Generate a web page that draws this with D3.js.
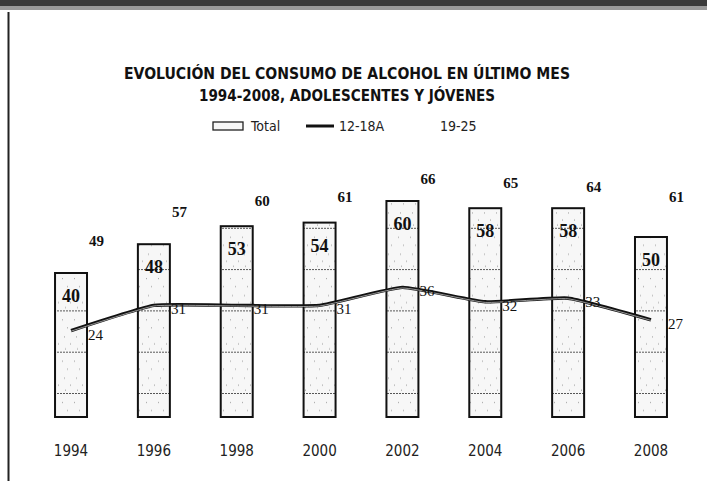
<!DOCTYPE html>
<html>
<head>
<meta charset="utf-8">
<script src="https://cdn.jsdelivr.net/npm/d3@7"></script>
<style>
  body { margin: 0; background: #fff; }
  svg { display: block; }
</style>
</head>
<body>
<div id="chart"></div>
<script>
const years = ['1994', '1996', '1998', '2000', '2002', '2004', '2006', '2008'];
const total = [40, 48, 53, 54, 60, 58, 58, 50];
const teens = [24, 31, 31, 31, 36, 32, 33, 27];
const young = [49, 57, 60, 61, 66, 65, 64, 61];
const titleLines = ['EVOLUCIÓN DEL CONSUMO DE ALCOHOL EN ÚLTIMO MES', '1994-2008, ADOLESCENTES Y JÓVENES'];
const legendLabels = ['Total', '12-18A', '19-25'];

const WIDTH = 707, HEIGHT = 481;
const narrow = '"Liberation Sans Narrow", "DejaVu Sans Condensed", "Liberation Sans", sans-serif';
const serif = '"Liberation Serif", "DejaVu Serif", serif';

const svg = d3.select('#chart').append('svg')
    .attr('width', WIDTH)
    .attr('height', HEIGHT);

// scanned page border
svg.append('rect').attr('x', 0).attr('y', 0).attr('width', WIDTH).attr('height', 9).attr('fill', '#3a3a3a');
svg.append('rect').attr('x', 0).attr('y', 6).attr('width', WIDTH).attr('height', 4).attr('fill', '#9a9a9a');
svg.append('line').attr('x1', 8.5).attr('x2', 8.5).attr('y1', 12).attr('y2', HEIGHT)
    .attr('stroke', '#222').attr('stroke-width', 2);

const x = d3.scaleBand().domain(years).range([29.6, 692.4]).paddingInner(0.614).paddingOuter(0.307);
const y = d3.scaleLinear().domain([0, 70]).range([417, 165]);
const cx = d => x(d) + x.bandwidth() / 2;

// bar fill: light speckle with dashed horizontal rules
const defs = svg.append('defs');
const pat = defs.append('pattern').attr('id', 'barfill')
    .attr('patternUnits', 'userSpaceOnUse')
    .attr('x', 0).attr('y', 393).attr('width', 12).attr('height', 41.3);
pat.append('rect').attr('width', 12).attr('height', 41.3).attr('fill', '#f7f7f7');
pat.append('line').attr('x1', 0).attr('x2', 12).attr('y1', 0.5).attr('y2', 0.5)
    .attr('stroke', '#555').attr('stroke-width', 1.2).attr('stroke-dasharray', '2,1');
[[2, 9], [7, 17], [4, 26], [10, 33], [5, 38]].forEach(p => {
    pat.append('rect').attr('x', p[0]).attr('y', p[1]).attr('width', 1).attr('height', 1).attr('fill', '#999');
});

// title
svg.append('g').selectAll('text')
    .data(titleLines)
    .enter().append('text')
    .attr('x', 347)
    .attr('y', (d, i) => 79 + i * 22)
    .attr('text-anchor', 'middle')
    .attr('font-family', narrow)
    .attr('font-weight', 'bold')
    .attr('font-size', 16)
    .attr('textLength', (d, i) => i === 0 ? 446 : 296)
    .attr('lengthAdjust', 'spacingAndGlyphs')
    .attr('fill', '#111')
    .text(d => d);

// legend
const legend = svg.append('g').attr('font-family', narrow).attr('font-size', 14).attr('fill', '#222');
legend.append('rect').attr('x', 213).attr('y', 122).attr('width', 30).attr('height', 8)
    .attr('fill', '#f7f7f7').attr('stroke', '#222').attr('stroke-width', 1.3);
legend.append('text').attr('x', 251).attr('y', 131).text(legendLabels[0]);
legend.append('line').attr('x1', 306).attr('x2', 334).attr('y1', 126).attr('y2', 126)
    .attr('stroke', '#111').attr('stroke-width', 3);
legend.append('text').attr('x', 339).attr('y', 131).text(legendLabels[1]);
legend.append('text').attr('x', 440).attr('y', 131).text(legendLabels[2]);

// bars (Total)
svg.append('g').selectAll('rect')
    .data(total)
    .enter().append('rect')
    .attr('x', (d, i) => x(years[i]))
    .attr('y', d => y(d))
    .attr('width', x.bandwidth())
    .attr('height', d => y(0) - y(d))
    .attr('fill', 'url(#barfill)')
    .attr('stroke', '#111')
    .attr('stroke-width', 2);

svg.append('g').selectAll('text')
    .data(total)
    .enter().append('text')
    .attr('x', (d, i) => cx(years[i]))
    .attr('y', d => y(d) + 29)
    .attr('text-anchor', 'middle')
    .attr('font-family', serif)
    .attr('font-weight', 'bold')
    .attr('font-size', 18)
    .attr('fill', '#111')
    .text(d => d);

// 12-18A line
const line = d3.line()
    .x((d, i) => cx(years[i]))
    .y(d => y(d))
    .curve(d3.curveCardinal.tension(0.6));

svg.append('path')
    .datum(teens)
    .attr('d', line)
    .attr('fill', 'none')
    .attr('stroke', '#111')
    .attr('stroke-width', 3.4);
svg.append('path')
    .datum(teens)
    .attr('d', line)
    .attr('fill', 'none')
    .attr('stroke', '#bbb')
    .attr('stroke-width', 0.8)
    .attr('transform', 'translate(0,0.6)');

svg.append('g').selectAll('text')
    .data(teens)
    .enter().append('text')
    .attr('x', (d, i) => cx(years[i]) + 17)
    .attr('y', d => y(d) + 9)
    .attr('font-family', serif)
    .attr('font-size', 15)
    .attr('fill', '#111')
    .text(d => d);

// 19-25 (line drawn in white, only labels show)
svg.append('g').selectAll('text')
    .data(young)
    .enter().append('text')
    .attr('x', (d, i) => cx(years[i]) + 18)
    .attr('y', d => y(d) + 5)
    .attr('font-family', serif)
    .attr('font-weight', 'bold')
    .attr('font-size', 15)
    .attr('fill', '#111')
    .text(d => d);

// category axis labels
svg.append('g').selectAll('text')
    .data(years)
    .enter().append('text')
    .attr('x', d => cx(d))
    .attr('y', 456)
    .attr('text-anchor', 'middle')
    .attr('font-family', narrow)
    .attr('font-size', 15)
    .attr('fill', '#222')
    .text(d => d);
</script>
</body>
</html>
